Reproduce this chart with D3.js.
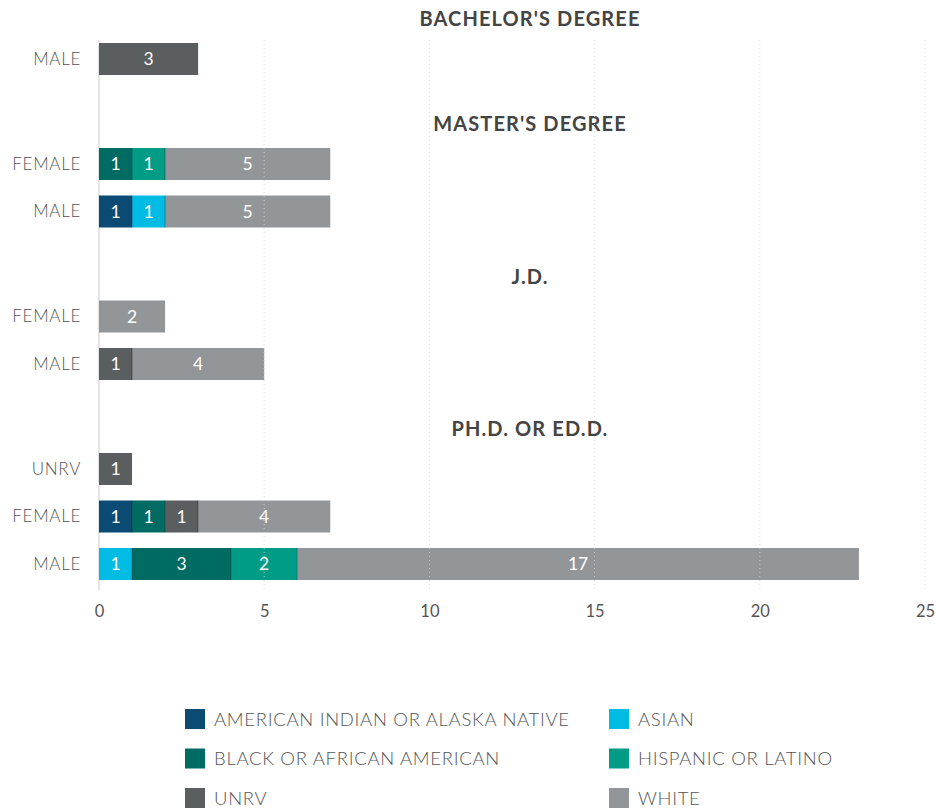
<!DOCTYPE html>
<html>
<head>
<meta charset="utf-8">
<script src="https://cdn.jsdelivr.net/npm/d3@7"></script>
<style>
  body { margin: 0; background: #fff; font-family: Lato, "Open Sans", sans-serif; }
</style>
</head>
<body>
<div id="chart"></div>
<script>
const groups = ["BACHELOR'S DEGREE", "MASTER'S DEGREE", "J.D.", "PH.D. OR ED.D."];
const rowGroup = [0, 1, 1, 2, 2, 3, 3, 3];
const rowLabels = ["MALE", "FEMALE", "MALE", "FEMALE", "MALE", "UNRV", "FEMALE", "MALE"];
const races = ["AMERICAN INDIAN OR ALASKA NATIVE", "ASIAN", "BLACK OR AFRICAN AMERICAN",
               "HISPANIC OR LATINO", "UNRV", "WHITE"];
const colors = ["#0b4a73", "#00bbe3", "#006b62", "#009c86", "#5b5e5f", "#939699"];
const americanIndian = [0, 0, 1, 0, 0, 0, 1, 0];
const asian          = [0, 0, 1, 0, 0, 0, 0, 1];
const black          = [0, 1, 0, 0, 0, 0, 1, 3];
const hispanic       = [0, 1, 0, 0, 0, 0, 0, 2];
const unrv           = [3, 0, 0, 0, 1, 1, 1, 0];
const white          = [0, 5, 5, 2, 4, 0, 4, 17];
const xTicks = [0, 5, 10, 15, 20, 25];

const series = [americanIndian, asian, black, hispanic, unrv, white];

const width = 936, height = 810;
const left = 99, right = 925;
const barH = 32;

const svg = d3.select("#chart").append("svg")
  .attr("width", width).attr("height", height);

const x = d3.scaleLinear().domain([0, 25]).range([left, right]);

// vertical layout: title, then rows
let yPos = 19;
const titleY = [], rowY = [];
rowGroup.forEach((g, i) => {
  if (i === 0 || rowGroup[i - 1] !== g) {
    if (i > 0) yPos += 65;
    titleY[g] = yPos;
    yPos += 40;
  } else {
    yPos += 47.5;
  }
  rowY[i] = yPos;
});

const rows = rowLabels.map((label, i) => {
  let acc = 0;
  const segs = [];
  series.forEach((s, k) => {
    if (s[i] > 0) {
      segs.push({ race: k, x0: acc, x1: acc + s[i], v: s[i] });
      acc += s[i];
    }
  });
  return { label, y: rowY[i], segs };
});

const plotTop = 40, plotBottom = 590;

// axis baseline
svg.append("line")
  .attr("x1", x(0)).attr("x2", x(0))
  .attr("y1", plotTop).attr("y2", plotBottom)
  .attr("stroke", "#e4e4e4").attr("stroke-width", 2);

// group titles
svg.selectAll(".title").data(groups).enter().append("text")
  .attr("x", 530).attr("y", (d, i) => titleY[i])
  .attr("text-anchor", "middle").attr("dy", "0.35em")
  .style("font-size", "20px").style("font-weight", "bold").style("fill", "#444")
  .style("letter-spacing", "1.1px")
  .text(d => d);

// row labels
svg.selectAll(".rowlab").data(rows).enter().append("text")
  .attr("x", 81).attr("y", d => d.y).attr("dy", "0.35em")
  .attr("text-anchor", "end")
  .style("font-size", "17px").style("fill", "#555").style("font-weight", 300)
  .style("letter-spacing", "0.7px")
  .text(d => d.label);

const rowG = svg.selectAll(".row").data(rows).enter().append("g");

rowG.selectAll("rect").data(d => d.segs.map(s => ({ ...s, y: d.y }))).enter().append("rect")
  .attr("x", d => x(d.x0))
  .attr("y", d => d.y - barH / 2)
  .attr("width", d => x(d.x1) - x(d.x0))
  .attr("height", barH)
  .attr("fill", d => colors[d.race]);

// thin separators between segments
rowG.selectAll("line").data(d => d.segs.slice(1).map(s => ({ ...s, y: d.y }))).enter().append("line")
  .attr("x1", d => x(d.x0)).attr("x2", d => x(d.x0))
  .attr("y1", d => d.y - barH / 2).attr("y2", d => d.y + barH / 2)
  .attr("stroke", "rgba(0,0,0,0.35)").attr("stroke-width", 1);

rowG.selectAll("text").data(d => d.segs.map(s => ({ ...s, y: d.y }))).enter().append("text")
  .attr("x", d => x((d.x0 + d.x1) / 2))
  .attr("y", d => d.y).attr("dy", "0.36em")
  .attr("text-anchor", "middle")
  .style("font-size", "17.5px").style("fill", "#fff")
  .text(d => d.v);

// dotted gridlines drawn over bars
svg.selectAll(".grid").data(xTicks.slice(1)).enter().append("line")
  .attr("x1", d => x(d)).attr("x2", d => x(d))
  .attr("y1", plotTop).attr("y2", plotBottom)
  .attr("stroke", "#d6d6d6").attr("stroke-width", 1)
  .attr("stroke-dasharray", "1,3")
  .attr("opacity", 0.8);

// x axis
const xAxis = svg.append("g")
  .attr("transform", `translate(0,${plotBottom})`)
  .call(d3.axisBottom(x).tickValues(xTicks).tickSize(0).tickPadding(15));
xAxis.select(".domain").remove();
xAxis.selectAll("text")
  .style("font-family", "Lato, 'Open Sans', sans-serif")
  .style("font-size", "16.5px").style("fill", "#555");

// legend
const legend = svg.append("g");
const legItems = legend.selectAll("g").data(races).enter().append("g")
  .attr("transform", (d, i) => `translate(${i % 2 === 0 ? 185 : 609},${719 + Math.floor(i / 2) * 39.5})`);
legItems.append("rect")
  .attr("x", 0).attr("y", -10).attr("width", 20).attr("height", 20)
  .attr("fill", (d, i) => colors[i]);
legItems.append("text")
  .attr("x", 29).attr("y", 0).attr("dy", "0.36em")
  .style("font-size", "18.5px").style("fill", "#555").style("font-weight", 300)
  .style("letter-spacing", "0.7px")
  .text(d => d);
</script>
</body>
</html>
